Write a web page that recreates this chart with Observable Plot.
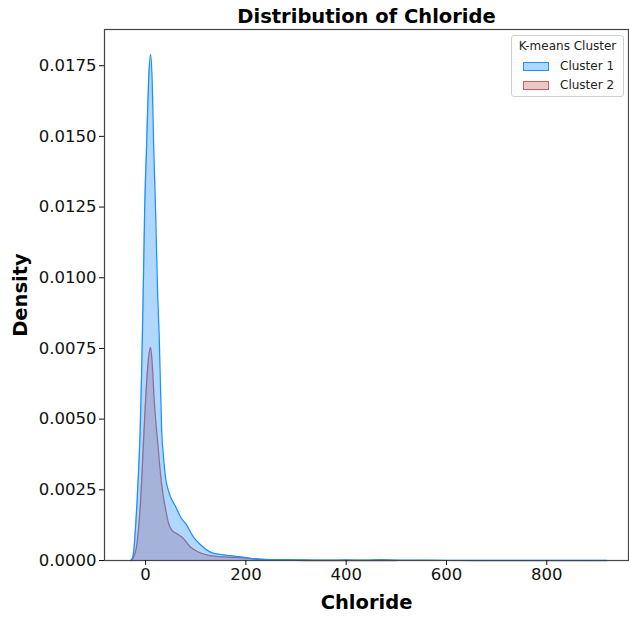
<!DOCTYPE html>
<html>
<head>
<meta charset="utf-8">
<script src="https://cdn.jsdelivr.net/npm/d3@7"></script>
<script src="https://cdn.jsdelivr.net/npm/@observablehq/plot@0.6"></script>
<style>
  body { margin: 0; background: #fff; font-family: "DejaVu Sans", sans-serif; }
  #chart { position: relative; width: 629px; height: 617px; }
  .legend { position: absolute; left: 511px; top: 35px; width: 113px; height: 62px;
            border: 1px solid #d0d0d0; border-radius: 3px; background: rgba(255,255,255,0.85);
            font-size: 12px; color: #222; box-sizing: border-box; }
  .legend .ttl { position: absolute; left: 0; width: 100%; top: 3px; text-align: center; }
  .legend .row { position: absolute; left: 11px; height: 14px; display: flex; align-items: center; }
  .legend .sw { width: 24px; height: 7px; margin-right: 11px; }
</style>
</head>
<body>
<div id="chart"></div>
<script>
// Kernel density estimates of chloride concentration for the two K-means clusters
const clusters = ["Cluster 1", "Cluster 2"];
const clusterColors = ["#1e90ff", "#cd5c5c"];

const chlorideC1 = [-30, -26, -23, -20, -17, -14, -11, -8, -5, -2, 2, 6, 10, 13, 16, 20, 24, 27, 32, 36, 40, 45, 50, 60, 70, 80, 96, 110, 130, 150, 170, 200, 230, 280, 320, 360, 400, 440, 470, 500, 560, 650, 750, 850, 920];
const densityC1 = [0, 0.0001, 0.00046, 0.0012, 0.0021, 0.0032, 0.0045, 0.0066, 0.0093, 0.0123, 0.0147, 0.0170, 0.0179, 0.0170, 0.0147, 0.0123, 0.0094, 0.0080, 0.0046, 0.0036, 0.0029, 0.0025, 0.00224, 0.0019, 0.00153, 0.0013, 0.00082, 0.00055, 0.00029, 0.00021, 0.00017, 0.0001, 0.00004, 0.00003, 0.00002, 0.00001, 0.00002, 0.00001, 0.00003, 0.00001, 0.00001, 0, 0, 0, 0];

const chlorideC2 = [-28, -22, -18, -15, -10, -5, 0, 5, 10, 13, 17, 25, 30, 35, 40, 46, 52, 62, 73, 90, 105, 126, 145, 163, 195, 230, 270, 320, 400, 500];
const densityC2 = [0, 0.0002, 0.0005, 0.00095, 0.0021, 0.0039, 0.0057, 0.0070, 0.00754, 0.0070, 0.0057, 0.0040, 0.0030, 0.0023, 0.0018, 0.0013, 0.00108, 0.00095, 0.00082, 0.00047, 0.0003, 0.00018, 0.00014, 0.00012, 0.00009, 0.00004, 0.00001, 0, 0, 0];

const xTicks = [0, 200, 400, 600, 800];
const yTicks = [0, 0.0025, 0.005, 0.0075, 0.01, 0.0125, 0.015, 0.0175];

const c1 = chlorideC1.map((x, i) => ({x, d: densityC1[i]}));
const c2 = chlorideC2.map((x, i) => ({x, d: densityC2[i]}));

const fillAlpha = 0.35;
const curve = "monotone-x";

const chart = Plot.plot({
  width: 629,
  height: 617,
  marginLeft: 104,
  marginRight: 1,
  marginTop: 29,
  marginBottom: 57,
  style: { fontFamily: "DejaVu Sans, sans-serif", fontSize: "16.5px", color: "#111", background: "#fff" },
  x: { domain: [-82, 963] },
  y: { domain: [0, 0.01878] },
  marks: [
    // cluster 2 first, cluster 1 drawn on top
    Plot.areaY(c2, { x: "x", y: "d", fill: clusterColors[1], fillOpacity: fillAlpha, curve }),
    Plot.lineY(c2, { x: "x", y: "d", stroke: clusterColors[1], strokeWidth: 1.3, curve }),
    Plot.areaY(c1, { x: "x", y: "d", fill: clusterColors[0], fillOpacity: fillAlpha, curve }),
    Plot.lineY(c1, { x: "x", y: "d", stroke: clusterColors[0], strokeWidth: 1.3, curve }),
    Plot.frame({ stroke: "#444", strokeWidth: 1.2 }),
    Plot.axisX({ ticks: xTicks, tickSize: 5, tickPadding: 3, label: null }),
    Plot.axisY({ ticks: yTicks, tickSize: 5, tickPadding: 3, tickFormat: d3.format(".4f"), label: null }),
    Plot.text(["Distribution of Chloride"], { frameAnchor: "top", lineAnchor: "bottom", dy: -7, fontSize: 19.5, fontWeight: "bold", fill: "#000" }),
    Plot.text(["Chloride"], { frameAnchor: "bottom", lineAnchor: "bottom", dy: 48, fontSize: 19.5, fontWeight: "bold", fill: "#000" }),
    Plot.text(["Density"], { frameAnchor: "left", textAnchor: "middle", rotate: -90, dx: -84, fontSize: 19.5, fontWeight: "bold", fill: "#000" })
  ]
});

const holder = document.getElementById("chart");
holder.appendChild(chart);

// legend box
const legend = document.createElement("div");
legend.className = "legend";
legend.innerHTML = `<div class="ttl">K-means Cluster</div>`;
clusters.forEach((name, i) => {
  const row = document.createElement("div");
  row.className = "row";
  row.style.top = (23 + i * 19) + "px";
  const sw = document.createElement("span");
  sw.className = "sw";
  const c = d3.color(clusterColors[i]);
  sw.style.border = `1.3px solid ${clusterColors[i]}`;
  sw.style.background = `rgba(${c.r},${c.g},${c.b},${fillAlpha})`;
  row.appendChild(sw);
  const t = document.createElement("span");
  t.textContent = name;
  row.appendChild(t);
  legend.appendChild(row);
});
holder.appendChild(legend);
</script>
</body>
</html>
